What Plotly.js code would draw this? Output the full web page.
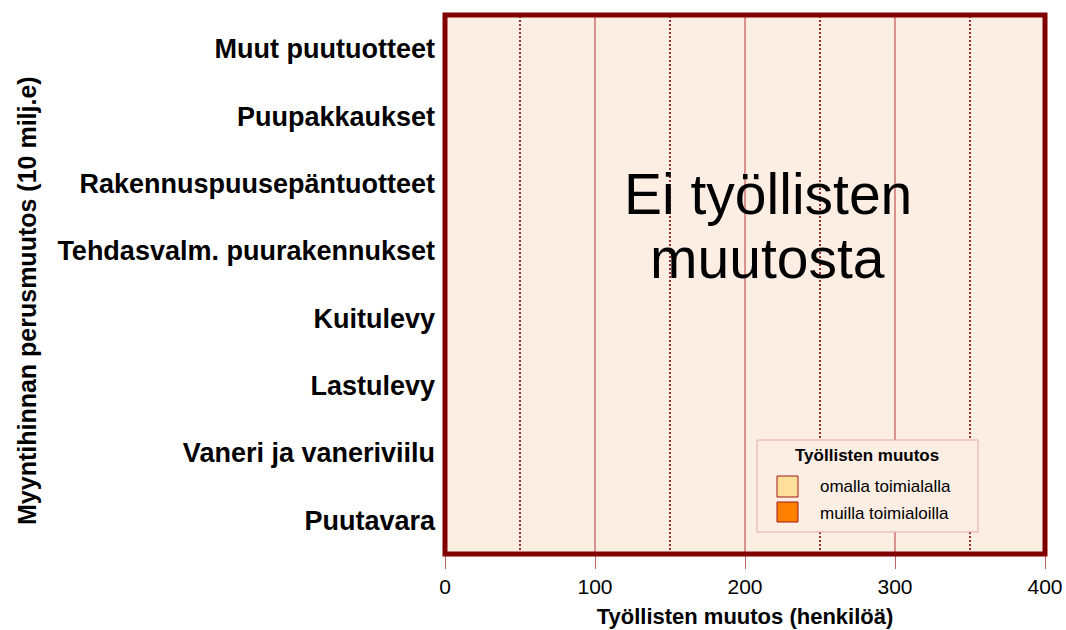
<!DOCTYPE html>
<html>
<head>
<meta charset="utf-8">
<script src="https://cdn.plot.ly/plotly-3.0.1.min.js"></script>
<style>html,body{margin:0;padding:0;background:#fff;}#chart{width:1066px;height:630px;}</style>
</head>
<body>
<div id="chart"></div>
<script>
// Categories (bottom to top)
var categories = ['Puutavara', 'Vaneri ja vaneriviilu', 'Lastulevy', 'Kuitulevy',
  'Tehdasvalm. puurakennukset', 'Rakennuspuusepäntuotteet', 'Puupakkaukset', 'Muut puutuotteet'];
// Employment change (persons) — no change in any category
var omallaToimialalla = [0, 0, 0, 0, 0, 0, 0, 0];
var muillaToimialoilla = [0, 0, 0, 0, 0, 0, 0, 0];
var seriesNames = ['omalla toimialalla', 'muilla toimialoilla'];
var seriesColors = ['#FFE09A', '#FF8000'];
var xTickVals = [0, 100, 200, 300, 400];
var xMinorVals = [50, 150, 250, 350];
var legendTitle = 'Työllisten muutos';
var noChangeLines = ['Ei työllisten', 'muutosta'];
var yTitle = 'Myyntihinnan perusmuutos (10 milj.e)';
var xTitle = 'Työllisten muutos (henkilöä)';

var FONT = 'Arial, "Liberation Sans", sans-serif';

var traces = [
  {type: 'bar', orientation: 'h', y: categories, x: omallaToimialalla, name: seriesNames[0],
   marker: {color: seriesColors[0], line: {color: '#A01818', width: 1}}, showlegend: false, hoverinfo: 'skip'},
  {type: 'bar', orientation: 'h', y: categories, x: muillaToimialoilla, name: seriesNames[1],
   marker: {color: seriesColors[1], line: {color: '#A01818', width: 1}}, showlegend: false, hoverinfo: 'skip'}
];

// pixel helpers for plot-relative paper coords
var L = 445, R = 1045, T = 15, B = 554;
function px(x) { return (x - L) / (R - L); }
function py(y) { return (B - y) / (B - T); }

var shapes = [];
// grid lines in data coordinates (solid at major ticks, dotted halfway)
xTickVals.forEach(function (v) {
  if (v > 0 && v < 400) shapes.push({type: 'line', xref: 'x', yref: 'paper', x0: v, x1: v, y0: 0, y1: 1,
    line: {color: '#B83434', width: 1}, layer: 'below'});
});
xMinorVals.forEach(function (v) {
  shapes.push({type: 'line', xref: 'x', yref: 'paper', x0: v, x1: v, y0: 0, y1: 1,
    line: {color: '#800000', width: 1.6, dash: '2px,2px'}, layer: 'below'});
});
shapes = shapes.concat([
  // legend box
  {type: 'rect', xref: 'paper', yref: 'paper', x0: px(757), x1: px(978), y0: py(532), y1: py(440),
   line: {color: '#E4AAAA', width: 1}, fillcolor: '#FDEEE4', layer: 'above'},
  // swatches
  {type: 'rect', xref: 'paper', yref: 'paper', x0: px(777), x1: px(798), y0: py(497), y1: py(476),
   line: {color: '#A01818', width: 1}, fillcolor: seriesColors[0], layer: 'above'},
  {type: 'rect', xref: 'paper', yref: 'paper', x0: px(777), x1: px(798), y0: py(522), y1: py(502),
   line: {color: '#A01818', width: 1}, fillcolor: seriesColors[1], layer: 'above'},
  // plot border
  {type: 'rect', xref: 'paper', yref: 'paper', x0: 0, x1: 1, y0: 0, y1: 1,
   line: {color: '#800000', width: 5}, layer: 'above'}
]);

var annotations = [
  {xref: 'x', yref: 'paper', x: 215, y: py(194), text: noChangeLines[0], showarrow: false,
   xanchor: 'center', yanchor: 'middle', font: {family: FONT, size: 57, color: '#000'}},
  {xref: 'x', yref: 'paper', x: 215, y: py(258), text: noChangeLines[1], showarrow: false,
   xanchor: 'center', yanchor: 'middle', font: {family: FONT, size: 57, color: '#000'}},
  {xref: 'paper', yref: 'paper', x: px(866.5), y: py(456), text: '<b>' + legendTitle + '</b>', showarrow: false,
   xanchor: 'center', yanchor: 'middle', font: {family: FONT, size: 17, color: '#000'}},
  {xref: 'paper', yref: 'paper', x: px(818), y: py(487), text: seriesNames[0], showarrow: false,
   xanchor: 'left', yanchor: 'middle', font: {family: FONT, size: 17, color: '#000'}},
  {xref: 'paper', yref: 'paper', x: px(818), y: py(513), text: seriesNames[1], showarrow: false,
   xanchor: 'left', yanchor: 'middle', font: {family: FONT, size: 17, color: '#000'}},
  // y-axis title
  {xref: 'paper', yref: 'paper', x: px(27), y: py(301), text: '<b>' + yTitle + '</b>', showarrow: false,
   textangle: -90, xanchor: 'center', yanchor: 'middle', font: {family: FONT, size: 25, color: '#000'}}
];

var layout = {
  width: 1066, height: 630,
  margin: {l: L, r: 1066 - R, t: T, b: 630 - B, pad: 0},
  paper_bgcolor: '#FFFFFF',
  plot_bgcolor: '#FDEEE4',
  barmode: 'stack',
  showlegend: false,
  font: {family: FONT, color: '#000'},
  xaxis: {
    range: [0, 400], tickvals: xTickVals, ticktext: xTickVals.map(String),
    ticks: 'outside', ticklen: 14, tickwidth: 1, tickcolor: '#C06060',
    tickfont: {family: FONT, size: 21, color: '#000'},
    ticklabelstandoff: 0,
    showgrid: false,
    zeroline: false, showline: false, fixedrange: true,
    title: {text: '<b>' + xTitle + '</b>', font: {family: FONT, size: 22, color: '#000'}, standoff: 11}
  },
  yaxis: {
    type: 'category', categoryorder: 'array', categoryarray: categories,
    range: [-0.5, 7.5],
    ticks: '', showgrid: false, zeroline: false, showline: false, fixedrange: true,
    tickfont: {family: FONT, size: 27, color: '#000', weight: 'bold'},
    ticklabelstandoff: 9
  },
  shapes: shapes,
  annotations: annotations
};

Plotly.newPlot('chart', traces, layout, {displayModeBar: false, staticPlot: true});
</script>
</body>
</html>
